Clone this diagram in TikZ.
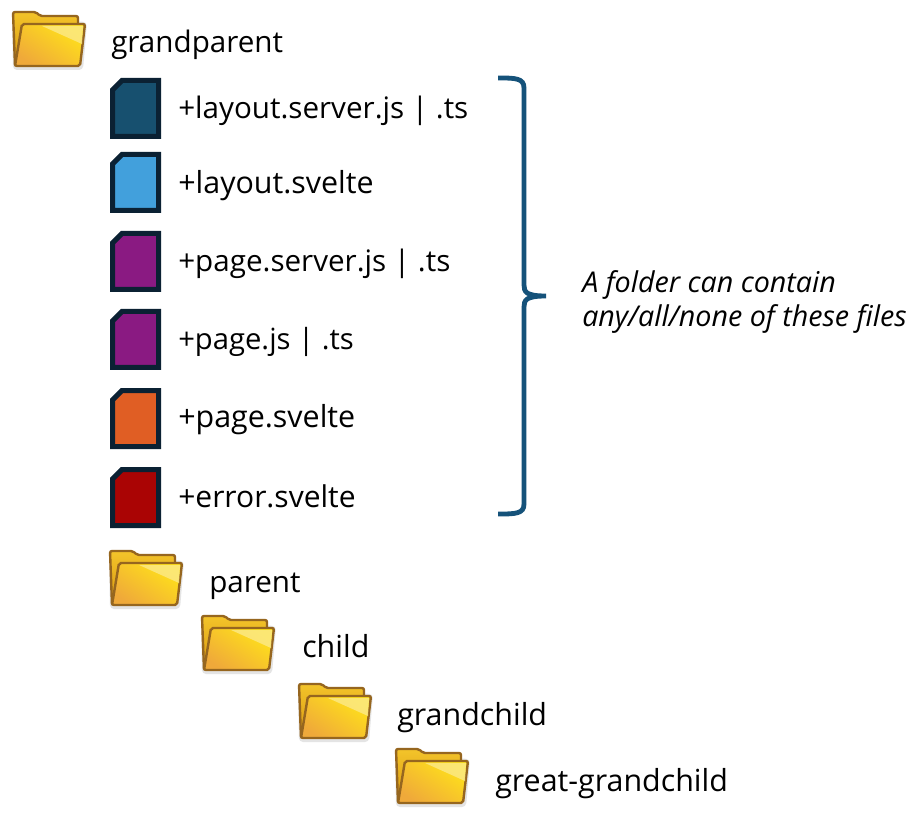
\documentclass[tikz,border=0pt]{standalone}
\usepackage{fontspec}
\setmainfont{Open Sans}
\definecolor{fileedge}{HTML}{0B2133}
\definecolor{brace}{HTML}{15527A}
\definecolor{cA}{HTML}{17506F}
\definecolor{cB}{HTML}{42A0DC}
\definecolor{cC}{HTML}{8A1A82}
\definecolor{cD}{HTML}{E05E24}
\definecolor{cE}{HTML}{AA0404}
\definecolor{fedge}{HTML}{96661F}
\definecolor{fbackT}{HTML}{F3C42A}
\definecolor{fbackB}{HTML}{D9980F}
\definecolor{ffrontL}{HTML}{EFA93A}
\definecolor{ffrontR}{HTML}{FFE21A}
\definecolor{fshine}{HTML}{FBE98A}
\tikzset{
 x=0.75pt,y=-0.75pt,
 label/.style={anchor=base west,inner sep=0pt,font=\fontsize{#1}{26}\selectfont,text=black},
 label/.default=22.2,
 note/.style={anchor=base west,inner sep=0pt,font=\fontsize{21.5}{26}\selectfont\itshape,text=black},
 fileicon/.style={draw=fileedge,line width=3.75pt,fill=#1,miter limit=4},
 pics/folder/.style={code={
   \fill[black!30,opacity=.35,rounded corners=3pt] (0,8) -- (75,12) -- (71,60) -- (1,60) -- cycle;
   \path[draw=fedge,line width=1.8pt,top color=fbackT,bottom color=fbackB,rounded corners=1.5pt]
     (1,2) -- (24,2) -- (28,6) -- (66,6) -- (66,20) -- (5,54) -- (3,56) -- cycle;
   \path[draw=fedge,line width=1.8pt,left color=ffrontR,right color=ffrontL,shading angle=-35,rounded corners=1.5pt]
     (10,14) -- (73,14) -- (68,56) -- (3,56) -- cycle;
   \fill[fshine,opacity=.8] (30,16) -- (71,16) -- (70,34) -- cycle;
 }},
}
\newcommand{\fileat}[2]{%
  \draw[fileicon=#2] (112.5,#1+12) -- (122,#1+2.5) -- (158.5,#1+2.5) -- (158.5,#1+58.5) -- (112.5,#1+58.5) -- cycle;}
\begin{document}
\begin{tikzpicture}
\useasboundingbox (0,0) rectangle (924,830);
\fill[white] (0,0) rectangle (924,830);
\pic at (12,10) {folder};
\pic at (109,549) {folder};
\pic at (201,614) {folder};
\pic at (298,682) {folder};
\pic at (395,747) {folder};
\fileat{78}{cA}
\fileat{152}{cB}
\fileat{231}{cC}
\fileat{309}{cC}
\fileat{388}{cD}
\fileat{467}{cE}
\node[label] (gp) at (111,52.5) {grandparent};
\node[label] (f1) at (178,118.5) {+layout.server.js | .ts};
\node[label=22.8] (f2) at (178,193.5) {+layout.svelte};
\node[label] (f3) at (178,271.5) {+page.server.js | .ts};
\node[label=21.9] (f4) at (178,349.5) {+page.js | .ts};
\node[label=22.8] (f5) at (178,427.5) {+page.svelte};
\node[label=22.5] (f6) at (178,507.5) {+error.svelte};
\node[label] (p) at (209,592) {parent};
\node[label=22.8] (c) at (302,657) {child};
\node[label=22.8] (gc) at (397,725) {grandchild};
\node[label=22.8] (ggc) at (495,791) {great-grandchild};
\node[note] (n1) at (582,292.5) {A folder can contain};
\node[note] (n2) at (582,326.5) {any/all/none of these files};
\draw[brace,line width=3.6pt] (498,78) .. controls (515,78) and (524,78) .. (524,88)
  -- (524,285) .. controls (524,292) and (526,296) .. (546,296)
  .. controls (526,296) and (524,300) .. (524,307) -- (524,504)
  .. controls (524,514) and (515,514) .. (498,514);
\end{tikzpicture}
\end{document}
